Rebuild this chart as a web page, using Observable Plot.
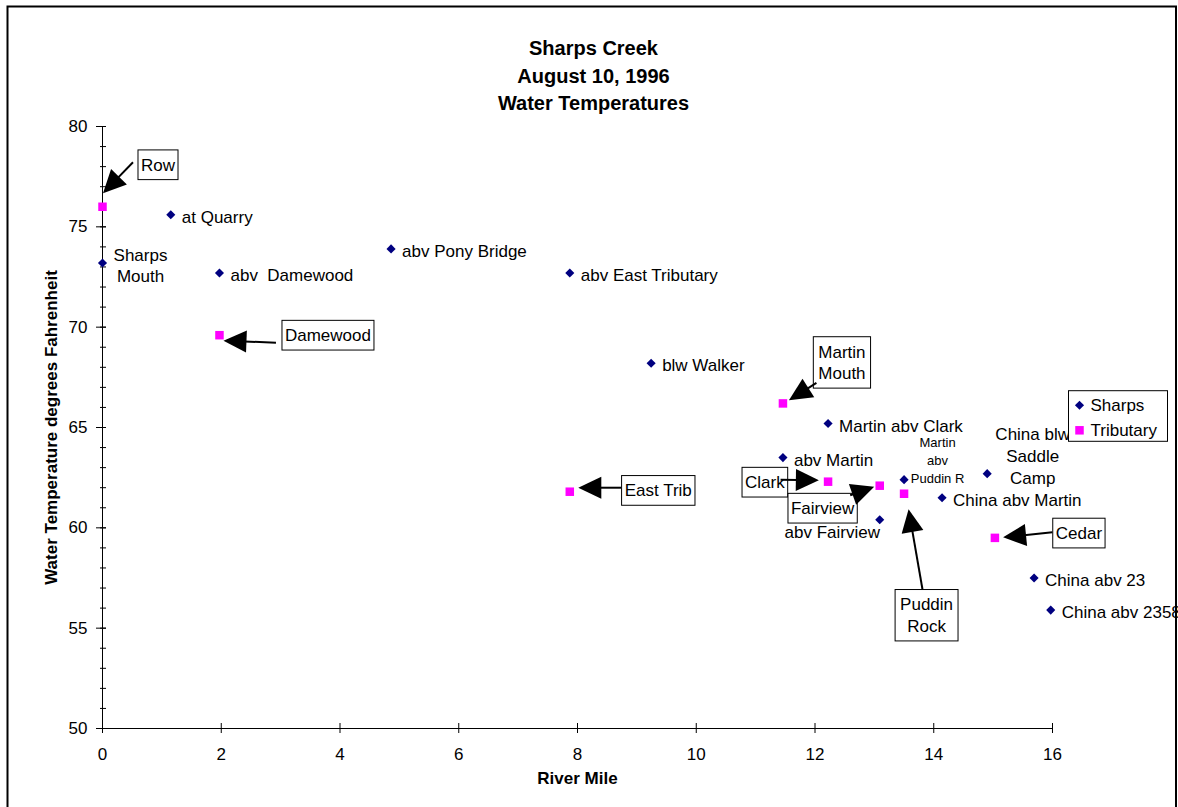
<!DOCTYPE html>
<html>
<head>
<meta charset="utf-8">
<script src="https://cdn.jsdelivr.net/npm/d3@7"></script>
<script src="https://cdn.jsdelivr.net/npm/@observablehq/plot@0.6"></script>
<style>
  body { margin: 0; background: #fff; }
  svg { display: block; }
  svg text { white-space: pre; }
</style>
</head>
<body>
<div id="chart"></div>
<script>
// ---------- data ----------
const titleLines = ["Sharps Creek", "August 10, 1996", "Water Temperatures"];
const xLabel = "River Mile";
const yLabel = "Water Temperature degrees Fahrenheit";
const seriesNames = ["Sharps", "Tributary"];

const sharpsNames = ["Sharps\nMouth", "at Quarry", "abv  Damewood", "abv Pony Bridge", "abv East Tributary",
  "blw Walker", "abv Martin", "Martin abv Clark", "abv Fairview", "Martin\nabv\nPuddin R",
  "China abv Martin", "China blw\nSaddle\nCamp", "China abv 23", "China abv 2358"];
const sharpsMile = [0, 1.15, 1.97, 4.86, 7.87, 9.24, 11.46, 12.22, 13.09, 13.5, 14.14, 14.9, 15.69, 15.97];
const sharpsTemp = [73.2, 75.6, 72.7, 73.9, 72.7, 68.2, 63.5, 65.2, 60.4, 62.4, 61.5, 62.7, 57.5, 55.9];

const tribNames = ["Row", "Damewood", "East Trib", "Martin\nMouth", "Clark", "Fairview", "Puddin\nRock", "Cedar"];
const tribMile = [0, 1.97, 7.87, 11.46, 12.22, 13.09, 13.5, 15.03];
const tribTemp = [76.0, 69.6, 61.8, 66.2, 62.3, 62.1, 61.7, 59.5];

const xTicks = [0, 2, 4, 6, 8, 10, 12, 14, 16];
const yTicks = [50, 55, 60, 65, 70, 75, 80];
const yMinorTicks = d3.range(50, 81, 1);

// ---------- layout (pixel offsets from each point) ----------
const FONT = "'Liberation Sans', Arial, Helvetica, sans-serif";
const NAVY = "#000080", MAGENTA = "#ff00ff";

const sharpsLabelLayout = [
  {dx: 38, dy: 1.5, anchor: "middle", lh: 1.27},          // Sharps Mouth
  {dx: 11, dy: 1.2}, {dx: 11, dy: 1.2}, {dx: 11, dy: 1.2}, {dx: 11, dy: 1.2},
  {dx: 11, dy: 1.2}, {dx: 11, dy: 1.2}, {dx: 11, dy: 1.2},
  {dx: -47.5, dy: 11.5, anchor: "middle"},                // abv Fairview
  {dx: 33.5, dy: -20.5, anchor: "middle", fs: 13, lh: 1.38}, // Martin abv Puddin R
  {dx: 11, dy: 1.2},
  {dx: 45.5, dy: -18.7, anchor: "middle", lh: 1.28},       // China blw Saddle Camp
  {dx: 11, dy: 1.2}, {dx: 11, dy: 1.2}
];

// box centre, arrow start, arrow tip (offsets from the point)
const calloutLayout = [
  {box: [56, -41.5], start: [31, -44], tip: [1, -13]},        // Row
  {box: [109, 0.5], start: [57, 8], tip: [4.5, 6]},           // Damewood
  {box: [89, -0.8], start: [52, -3.5], tip: [9, -3.5]},       // East Trib
  {box: [59.5, -40.5], start: [34, -20], tip: [6.5, -2.6]},   // Martin Mouth
  {box: [-62.7, 1], start: [-47, -1.5], tip: [-8.7, -1]},     // Clark
  {box: [-56.6, 23], start: [-29, 10], tip: [-5, 1.6]},       // Fairview
  {box: [23, 122], start: [19, 96.5], tip: [5, 16]},          // Puddin Rock
  {box: [84.5, -4.3], start: [58, -5], tip: [8.7, 0]}         // Cedar
];

// ---------- tables ----------
const sharps = sharpsNames.map((name, i) => ({name, mile: sharpsMile[i], temp: sharpsTemp[i], series: seriesNames[0]}));
const tribs = tribNames.map((name, i) => ({name, mile: tribMile[i], temp: tribTemp[i], series: seriesNames[1]}));

const measureCtx = document.createElement("canvas").getContext("2d");
function textWidth(s, size) {
  measureCtx.font = `${size}px ${FONT}`;
  return measureCtx.measureText(s).width;
}

// outer border of the chart area
function outerFrame() {
  const r = d3.create("svg:rect")
    .attr("x", 7.5).attr("y", 6.5).attr("width", 1168.5).attr("height", 900)
    .attr("fill", "none").attr("stroke", "#000").attr("stroke-width", 2);
  return r.node();
}

// callout boxes with filled arrows
function callouts(index, scales) {
  const g = d3.create("svg:g").attr("font-family", FONT).attr("font-size", 17);
  const lineH = 21.7, padX = 3, padY = 4, headL = 23, headW = 11;
  tribs.forEach((d, i) => {
    const L = calloutLayout[i];
    const px = scales.x(d.mile), py = scales.y(d.temp);
    const lines = d.name.split("\n");
    const w = d3.max(lines, s => textWidth(s, 17)) + 2 * padX + (lines.length > 1 ? 4 : 0);
    const h = lines.length * lineH + 2 * padY;
    const cx = px + L.box[0], cy = py + L.box[1];
    g.append("rect").attr("x", cx - w / 2).attr("y", cy - h / 2).attr("width", w).attr("height", h)
      .attr("fill", "#fff").attr("stroke", "#000").attr("stroke-width", 1);
    const t = g.append("text").attr("text-anchor", "middle").attr("fill", "#000");
    lines.forEach((s, k) => {
      t.append("tspan").attr("x", cx).attr("y", cy + (k - (lines.length - 1) / 2) * lineH + 6).text(s);
    });
    const sx = px + L.start[0], sy = py + L.start[1], tx = px + L.tip[0], ty = py + L.tip[1];
    const a = Math.atan2(ty - sy, tx - sx), ca = Math.cos(a), sa = Math.sin(a);
    const bx = tx - headL * ca, by = ty - headL * sa;
    g.append("line").attr("x1", sx).attr("y1", sy).attr("x2", bx + 2 * ca).attr("y2", by + 2 * sa)
      .attr("stroke", "#000").attr("stroke-width", 2);
    g.append("path").attr("d", `M${tx},${ty}L${bx - headW * sa},${by + headW * ca}L${bx + headW * sa},${by - headW * ca}Z`)
      .attr("fill", "#000");
  });
  return g.node();
}

// legend box
function legend(index, scales, values, dims) {
  const g = d3.create("svg:g").attr("font-family", FONT).attr("font-size", 17).attr("text-anchor", "start");
  const x0 = dims.width - dims.marginRight + 16.5, y0 = 390.7;
  g.append("rect").attr("x", x0).attr("y", y0).attr("width", 99).attr("height", 50.6)
    .attr("fill", "#fff").attr("stroke", "#000").attr("stroke-width", 1);
  const syms = [d3.symbol(d3.symbolDiamond2, Math.PI * 4.1 * 4.1)(), d3.symbol(d3.symbolSquare, Math.PI * 4.8 * 4.8)()];
  const cols = [NAVY, MAGENTA];
  seriesNames.forEach((s, k) => {
    const yy = y0 + 14.6 + k * 25;
    g.append("path").attr("d", syms[k]).attr("transform", `translate(${x0 + 11},${yy})`).attr("fill", cols[k]);
    g.append("text").attr("x", x0 + 22).attr("y", yy + 6).attr("text-anchor", "start").attr("fill", "#000").text(s);
  });
  return g.node();
}

const labelMarks = sharps.map((d, i) => {
  const L = sharpsLabelLayout[i];
  return Plot.text([d], {
    x: "mile", y: "temp", text: "name",
    dx: L.dx, dy: L.dy, textAnchor: L.anchor || "start",
    fontSize: L.fs || 17, lineHeight: L.lh || 1.28, fill: "#000"
  });
});

const chart = Plot.plot({
  width: 1178,
  height: 807,
  marginLeft: 102,
  marginRight: 126,
  marginTop: 126,
  marginBottom: 79,
  x: {domain: [0, 16], label: null},
  y: {domain: [50, 80], label: null},
  style: {fontFamily: FONT, fontSize: "17px", color: "#000", background: "#fff", overflow: "visible"},
  marks: [
    Plot.ruleY([50], {stroke: "#000"}),
    Plot.ruleX([0], {stroke: "#000"}),
    Plot.axisY({ticks: yMinorTicks, tickSize: 6, insetLeft: 4, tickFormat: () => "", label: null}),
    Plot.axisY({ticks: yTicks, tickSize: 10, insetLeft: 4, tickPadding: 9, label: null, fontSize: 17}),
    Plot.axisX({ticks: xTicks, tickSize: 10, insetBottom: 5, tickPadding: 14, label: null, fontSize: 17}),
    Plot.text([titleLines.join("\n")], {frameAnchor: "top", dx: 16, dy: -90.5, lineAnchor: "top",
      textAnchor: "middle", fontWeight: "bold", fontSize: 20, lineHeight: 1.37, fill: "#000"}),
    Plot.text([xLabel], {frameAnchor: "bottom", dy: 55, textAnchor: "middle", fontWeight: "bold", fontSize: 17, fill: "#000"}),
    Plot.text([yLabel], {frameAnchor: "left", dx: -51, rotate: -90, textAnchor: "middle", fontWeight: "bold", fontSize: 17, fill: "#000"}),
    ...labelMarks,
    Plot.dot(sharps, {x: "mile", y: "temp", symbol: "diamond2", r: 4.1, fill: NAVY, stroke: null}),
    Plot.dot(tribs, {x: "mile", y: "temp", symbol: "square", r: 4.8, fill: MAGENTA, stroke: null}),
    callouts,
    legend,
    outerFrame
  ]
});
document.getElementById("chart").appendChild(chart);
</script>
</body>
</html>
